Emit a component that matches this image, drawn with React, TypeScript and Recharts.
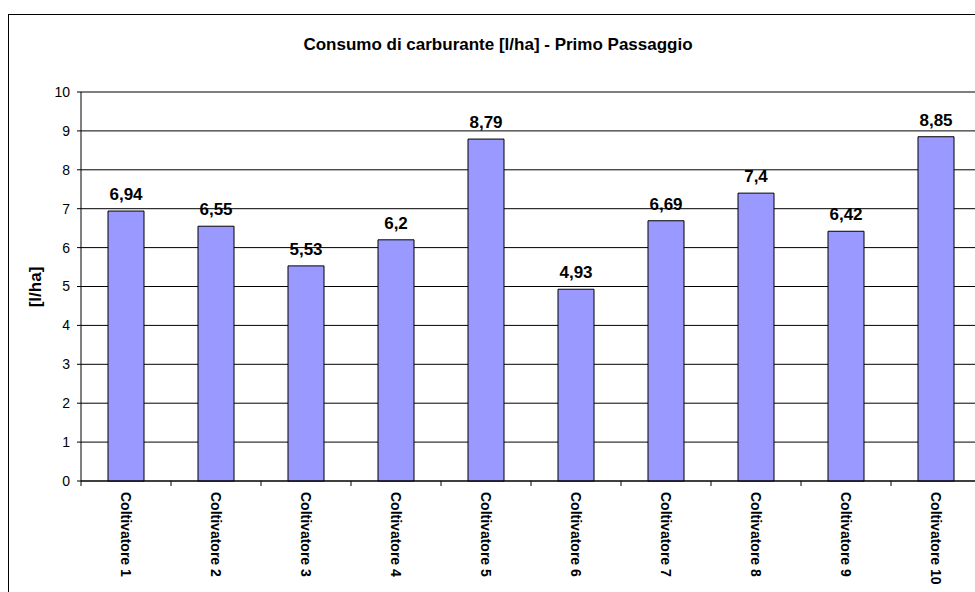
import React from 'react'
import { BarChart, Bar, XAxis, YAxis, CartesianGrid, LabelList } from 'recharts'

// dati
const categories = [
  'Coltivatore 1',
  'Coltivatore 2',
  'Coltivatore 3',
  'Coltivatore 4',
  'Coltivatore 5',
  'Coltivatore 6',
  'Coltivatore 7',
  'Coltivatore 8',
  'Coltivatore 9',
  'Coltivatore 10'
]
const consumption = [6.94, 6.55, 5.53, 6.2, 8.79, 4.93, 6.69, 7.4, 6.42, 8.85]
const yTicks = [0, 1, 2, 3, 4, 5, 6, 7, 8, 9, 10]

const data = categories.map((name, i) => ({ name, value: consumption[i] }))

const FONT = '"Liberation Sans", Arial, Helvetica, sans-serif'

function CategoryTick(props: any) {
  const { x, y, payload, index, visibleTicksCount } = props
  const half = payload?.offset ?? 45
  const isLast = index === visibleTicksCount - 1
  return (
    <g>
      <line x1={x - half} x2={x - half} y1={y} y2={y + 5} stroke="#000" />
      {isLast && <line x1={x + half} x2={x + half} y1={y} y2={y + 5} stroke="#000" />}
      <text
        x={0}
        y={0}
        transform={`translate(${x},${y + 11}) rotate(90)`}
        textAnchor="start"
        dominantBaseline="central"
        fontFamily={FONT}
        fontWeight="bold"
        fontSize={14}
        fill="#000"
      >
        {payload.value}
      </text>
    </g>
  )
}

export default function App() {
  return (
    <div
      style={{
        position: 'fixed',
        left: 0,
        top: 0,
        width: 975,
        height: 592,
        overflow: 'hidden',
        background: '#fff'
      }}
    >
      <div
        style={{
          position: 'absolute',
          left: 8,
          top: 14,
          width: 1100,
          height: 700,
          border: '1px solid #000',
          boxSizing: 'border-box'
        }}
      />
      <div style={{ position: 'absolute', left: 0, top: 0 }}>
        <BarChart
          width={1000}
          height={592}
          data={data}
          margin={{ top: 92, right: 19, bottom: 0, left: 0 }}
          barCategoryGap="30%"
        >
          <CartesianGrid vertical={false} stroke="#000" />
          <XAxis
            dataKey="name"
            height={111}
            interval={0}
            tickLine={false}
            tickSize={0}
            tickMargin={0}
            axisLine={{ stroke: '#000' }}
            tick={<CategoryTick />}
          />
          <YAxis
            width={81}
            domain={[0, 10]}
            ticks={yTicks}
            interval={0}
            tickSize={4}
            tickMargin={7}
            axisLine={{ stroke: '#000' }}
            tickLine={{ stroke: '#000' }}
            tick={{ fill: '#000', fontSize: 14, fontFamily: FONT }}
          />
          <Bar dataKey="value" fill="#9999FF" stroke="#000" strokeWidth={1} isAnimationActive={false}>
            <LabelList
              dataKey="value"
              position="top"
              offset={11}
              fill="#000"
              fontSize={17}
              fontWeight="bold"
              fontFamily={FONT}
              formatter={(v: any) => String(v).replace('.', ',')}
            />
          </Bar>
        </BarChart>
      </div>
      <svg
        width={975}
        height={592}
        style={{ position: 'absolute', left: 0, top: 0, pointerEvents: 'none' }}
      >
        <text
          x={498}
          y={50}
          textAnchor="middle"
          fontFamily={FONT}
          fontWeight="bold"
          fontSize={17}
          fill="#000"
        >
          Consumo di carburante [l/ha] - Primo Passaggio
        </text>
        <text
          transform="translate(35,287) rotate(-90)"
          textAnchor="middle"
          dominantBaseline="central"
          fontFamily={FONT}
          fontWeight="bold"
          fontSize={17}
          fill="#000"
        >
          [l/ha]
        </text>
      </svg>
    </div>
  )
}
